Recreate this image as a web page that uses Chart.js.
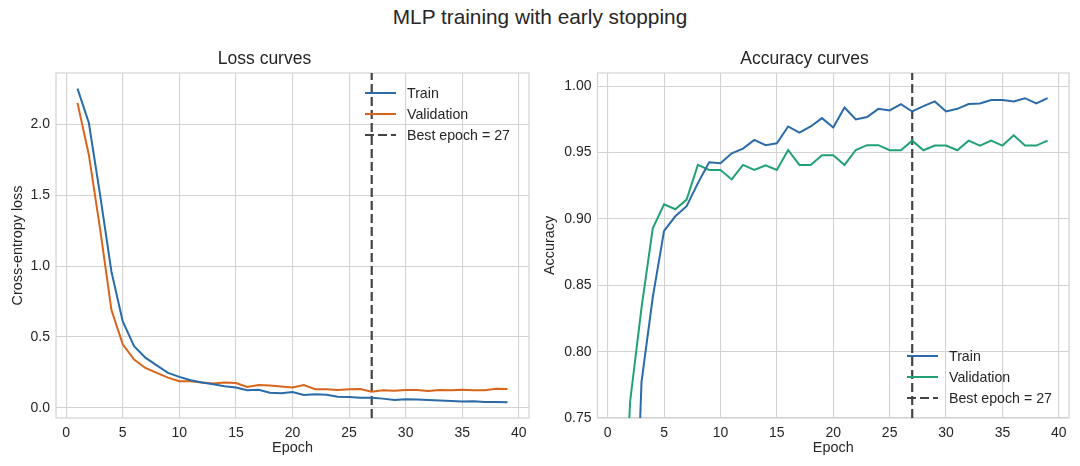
<!DOCTYPE html>
<html>
<head>
<meta charset="utf-8">
<script src="https://cdn.jsdelivr.net/npm/chart.js@4/dist/chart.umd.min.js"></script>
<style>
  body { margin: 0; background: #fff; width: 1080px; height: 466px; overflow: hidden; position: relative; }
  #suptitle { position: absolute; left: 0; top: 5px; width: 1080px; text-align: center;
              font-family: "Liberation Sans", Arial, sans-serif; font-size: 20.8px; color: #262626; }
  .box { position: absolute; top: 41px; width: 540px; height: 425px; }
  canvas { display: block; }
</style>
</head>
<body>
<div id="suptitle">MLP training with early stopping</div>
<div class="box" style="left:0"><canvas id="lossChart" width="540" height="425"></canvas></div>
<div class="box" style="left:540px"><canvas id="accChart" width="540" height="425"></canvas></div>
<script>
const epochs = [1,2,3,4,5,6,7,8,9,10,11,12,13,14,15,16,17,18,19,20,
    21,22,23,24,25,26,27,28,29,30,31,32,33,34,35,36,37,38,39];

const trainLoss = [2.25, 2.01, 1.50, 0.96, 0.61, 0.435, 0.355, 0.30, 0.247, 0.219,
    0.195, 0.179, 0.167, 0.153, 0.144, 0.125, 0.129, 0.108, 0.104, 0.113,
    0.092, 0.096, 0.094, 0.080, 0.078, 0.073, 0.073, 0.066, 0.056, 0.061,
    0.059, 0.056, 0.052, 0.049, 0.045, 0.047, 0.042, 0.042, 0.040];
const valLoss = [2.15, 1.785, 1.26, 0.69, 0.449, 0.341, 0.282, 0.247, 0.214, 0.188,
    0.188, 0.179, 0.172, 0.179, 0.176, 0.148, 0.162, 0.158, 0.151, 0.144,
    0.162, 0.132, 0.132, 0.127, 0.132, 0.134, 0.115, 0.125, 0.122, 0.127,
    0.127, 0.120, 0.127, 0.125, 0.129, 0.125, 0.125, 0.136, 0.134];

const trainAcc = [0.30, 0.54, 0.777, 0.841, 0.891, 0.902, 0.9096, 0.927, 0.9427, 0.942,
    0.9495, 0.953, 0.9596, 0.9556, 0.957, 0.9697, 0.965, 0.9697, 0.976, 0.969,
    0.984, 0.975, 0.9768, 0.983, 0.9818, 0.9866, 0.981, 0.985, 0.9886, 0.981,
    0.983, 0.9866, 0.987, 0.9896, 0.9896, 0.9886, 0.991, 0.987, 0.991];
const valAcc = [0.60, 0.763, 0.833, 0.893, 0.911, 0.9073, 0.9146, 0.9407, 0.9369, 0.9369,
    0.9298, 0.9407, 0.9369, 0.9404, 0.9369, 0.952, 0.9407, 0.9407, 0.948, 0.948,
    0.9407, 0.952, 0.9556, 0.9556, 0.9518, 0.9518, 0.959, 0.9518, 0.9553, 0.9553,
    0.9518, 0.959, 0.9553, 0.959, 0.9553, 0.963, 0.9553, 0.9553, 0.959];

const bestEpoch = 27;

const epochTicks = [0, 5, 10, 15, 20, 25, 30, 35, 40];
const lossTicks = [0, 0.5, 1.0, 1.5, 2.0];
const accTicks = [0.75, 0.80, 0.85, 0.90, 0.95, 1.00];

const FONT = '"Liberation Sans", Arial, sans-serif';
const TXT = '#262626';
const GRID = '#d3d3d3';

function pts(ys) {
    return ys.map((v, i) => ({x: epochs[i], y: v}));
}

// frame around the plot area (matplotlib spines)
const framePlugin = {
    id: 'frame',
    beforeDatasetsDraw(chart) {
        const a = chart.chartArea, c = chart.ctx;
        c.save();
        c.strokeStyle = GRID;
        c.lineWidth = 1.2;
        c.strokeRect(a.left, a.top, a.right - a.left, a.bottom - a.top);
        c.restore();
    }
};

// legend drawn inside the axes, like plt.legend(loc=...)
const innerLegend = {
    id: 'innerLegend',
    afterDraw(chart, args, opts) {
        const a = chart.chartArea, c = chart.ctx;
        const sets = chart.data.datasets;
        c.save();
        c.font = '14.2px ' + FONT;
        const tx = a.right - opts.textOffset;
        const rowH = 21;
        let y0 = opts.where === 'lower' ? a.bottom - 20 - rowH * (sets.length - 1) : a.top + 20;
        sets.forEach((d, i) => {
            const y = y0 + i * rowH;
            c.strokeStyle = d.borderColor;
            c.lineWidth = d.borderWidth;
            c.setLineDash(d.borderDash || []);
            c.beginPath();
            c.moveTo(tx - 42, y);
            c.lineTo(tx - 11, y);
            c.stroke();
            c.setLineDash([]);
            c.fillStyle = TXT;
            c.textBaseline = 'middle';
            c.fillText(d.label, tx, y + 1);
        });
        c.restore();
    }
};

function makeChart(id, o) {
    return new Chart(document.getElementById(id), {
        type: 'line',
        data: {
            datasets: [
                { label: 'Train', data: pts(o.train), borderColor: '#2b6ba8', borderWidth: 2,
                  pointRadius: 0, tension: 0 },
                { label: 'Validation', data: pts(o.val), borderColor: o.valColor, borderWidth: 2,
                  pointRadius: 0, tension: 0 },
                { label: 'Best epoch = ' + bestEpoch,
                  data: [{x: bestEpoch, y: o.yMin}, {x: bestEpoch, y: o.yMax}],
                  borderColor: '#444444', borderWidth: 2.2, borderDash: [9, 4],
                  pointRadius: 0 }
            ]
        },
        options: {
            responsive: false,
            animation: false,
            layout: { padding: { top: 0, right: 11, bottom: 0, left: 0 } },
            plugins: {
                legend: { display: false },
                tooltip: { enabled: false },
                innerLegend: { where: o.legendWhere, textOffset: o.legendOffset },
                title: {
                    display: true,
                    text: o.title,
                    color: TXT,
                    font: { family: FONT, size: 17.5, weight: 'normal' },
                    padding: { top: 7.5, bottom: 3.5 }
                }
            },
            scales: {
                x: {
                    type: 'linear',
                    min: -0.9,
                    max: 40.9,
                    afterBuildTicks: s => { s.ticks = epochTicks.map(v => ({value: v})); },
                    afterFit: s => { s.height = 48; },
                    grid: { color: GRID, lineWidth: 1.1, drawTicks: false },
                    border: { display: false },
                    ticks: { color: TXT, padding: 7, font: { family: FONT, size: 14 },
                             maxRotation: 0, callback: v => String(v) },
                    title: { display: true, text: 'Epoch', color: TXT,
                             font: { family: FONT, size: 14.4 }, padding: { top: 0, bottom: 9 } }
                },
                y: {
                    min: o.yMin,
                    max: o.yMax,
                    afterBuildTicks: s => { s.ticks = o.ticks.map(v => ({value: v})); },
                    afterFit: s => { s.width = o.yWidth; },
                    grid: { color: GRID, lineWidth: 1.1, drawTicks: false },
                    border: { display: false },
                    ticks: { color: TXT, padding: 6, font: { family: FONT, size: 14 },
                             callback: v => v.toFixed(o.decimals) },
                    title: { display: true, text: o.yTitle, color: TXT,
                             font: { family: FONT, size: 14.4 }, padding: { top: o.yTitlePad, bottom: 0 } }
                }
            }
        },
        plugins: [framePlugin, innerLegend]
    });
}

makeChart('lossChart', {
    train: trainLoss, val: valLoss, valColor: '#d8651b',
    title: 'Loss curves', yTitle: 'Cross-entropy loss',
    yMin: -0.0705, yMax: 2.3605, ticks: lossTicks, decimals: 1,
    yWidth: 56, yTitlePad: 9, legendWhere: 'upper', legendOffset: 122
});

makeChart('accChart', {
    train: trainAcc, val: valAcc, valColor: '#22a174',
    title: 'Accuracy curves', yTitle: 'Accuracy',
    yMin: 0.75, yMax: 1.01, ticks: accTicks, decimals: 2,
    yWidth: 57.5, yTitlePad: 1, legendWhere: 'lower', legendOffset: 120
});
</script>
</body>
</html>
